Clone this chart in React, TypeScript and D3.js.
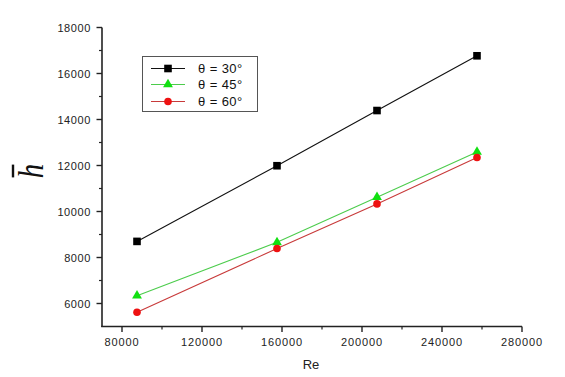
import React from "react";
import * as d3 from "d3";

const reValues = [87500, 157500, 207500, 257500];
const theta30 = [8700, 11990, 14390, 16770];
const theta45 = [6340, 8660, 10620, 12590];
const theta60 = [5620, 8390, 10330, 12350];
const seriesNames = ["θ = 30°", "θ = 45°", "θ = 60°"];
const xTicks = [80000, 120000, 160000, 200000, 240000, 280000];
const xMinor = [100000, 140000, 180000, 220000, 260000];
const yTicks = [6000, 8000, 10000, 12000, 14000, 16000, 18000];
const yMinor = [7000, 9000, 11000, 13000, 15000, 17000];

const W = 565;
const H = 377;

export default function App() {
  const x = d3.scaleLinear().domain([70000, 280000]).range([102, 522]);
  const y = d3.scaleLinear().domain([5000, 18000]).range([326.5, 27.5]);
  const line = d3
    .line<number>()
    .x((_, i) => x(reValues[i]))
    .y((d) => y(d));

  const series = [
    { name: seriesNames[0], data: theta30, line: "#111", fill: "#000", marker: "square" },
    { name: seriesNames[1], data: theta45, line: "#4ccc4c", fill: "#11e011", marker: "triangle" },
    { name: seriesNames[2], data: theta60, line: "#c83a3a", fill: "#ee1111", marker: "circle" },
  ];

  const marker = (kind: string, cx: number, cy: number, fill: string, key: any) => {
    if (kind === "square")
      return <rect key={key} x={cx - 3.8} y={cy - 3.8} width={7.6} height={7.6} fill={fill} />;
    if (kind === "triangle") {
      const p = d3.symbol().type(d3.symbolTriangle).size(42)();
      return <path key={key} d={p || ""} transform={`translate(${cx},${cy})`} fill={fill} />;
    }
    return <circle key={key} cx={cx} cy={cy} r={3.8} fill={fill} />;
  };

  const font = "'Liberation Sans', Arial, sans-serif";
  const axisColor = "#222";

  return (
    <svg width={W} height={H} style={{ position: "absolute", left: 0, top: 0, background: "#fff" }}>
      <rect x={0} y={0} width={W} height={H} fill="#fff" />
      {/* axes */}
      <line x1={102} y1={y(18000)} x2={102} y2={327} stroke={axisColor} strokeWidth={1.6} />
      <line x1={101.2} y1={326.5} x2={x(280000)} y2={326.5} stroke={axisColor} strokeWidth={1.6} />
      {yTicks.map((t) => (
        <g key={"y" + t}>
          <line x1={96.5} x2={102} y1={y(t)} y2={y(t)} stroke={axisColor} strokeWidth={1.4} />
          <text
            x={91}
            y={y(t) + 4}
            textAnchor="end"
            fontFamily={font}
            fontSize={11}
            letterSpacing={0.6}
            fill="#222"
          >
            {t}
          </text>
        </g>
      ))}
      {yMinor.map((t) => (
        <line key={"ym" + t} x1={99} x2={102} y1={y(t)} y2={y(t)} stroke={axisColor} strokeWidth={1.2} />
      ))}
      {xTicks.map((t) => (
        <g key={"x" + t}>
          <line x1={x(t)} x2={x(t)} y1={326.5} y2={332} stroke={axisColor} strokeWidth={1.4} />
          <text
            x={x(t)}
            y={346}
            textAnchor="middle"
            fontFamily={font}
            fontSize={11}
            letterSpacing={0.9}
            fill="#222"
          >
            {t}
          </text>
        </g>
      ))}
      {xMinor.map((t) => (
        <line key={"xm" + t} x1={x(t)} x2={x(t)} y1={326.5} y2={329.5} stroke={axisColor} strokeWidth={1.2} />
      ))}
      {/* axis titles */}
      <text x={311} y={369} textAnchor="middle" fontFamily={font} fontSize={13} fill="#222">
        Re
      </text>
      <g transform="translate(43,171) rotate(-90) scale(0.8,1)">
        <text
          x={0}
          y={0}
          textAnchor="middle"
          fontFamily="'Liberation Serif', 'DejaVu Serif', serif"
          fontStyle="italic"
          fontSize={36}
          fill="#111"
        >
          h
        </text>
        <line x1={-8} x2={8} y1={-30} y2={-30} stroke="#111" strokeWidth={2.4} />
      </g>
      {/* series */}
      {series.map((s) => (
        <g key={s.name}>
          <path d={line(s.data) || ""} fill="none" stroke={s.line} strokeWidth={1.1} />
          {s.data.map((v, i) => marker(s.marker, x(reValues[i]), y(v), s.fill, i))}
        </g>
      ))}
      {/* legend */}
      <rect x={142.5} y={56.5} width={115} height={55} fill="#fff" stroke="#555" strokeWidth={1} />
      {series.map((s, i) => {
        const ly = [68.5, 84.5, 101.5][i];
        return (
          <g key={"lg" + i}>
            <line x1={151} x2={185} y1={ly} y2={ly} stroke={s.line} strokeWidth={1.1} />
            {marker(s.marker, 168, ly, s.fill, "m")}
            <text x={198} y={ly + 4.5} fontFamily={font} fontSize={13} fill="#111" letterSpacing={0.4}>
              {s.name}
            </text>
          </g>
        );
      })}
    </svg>
  );
}
